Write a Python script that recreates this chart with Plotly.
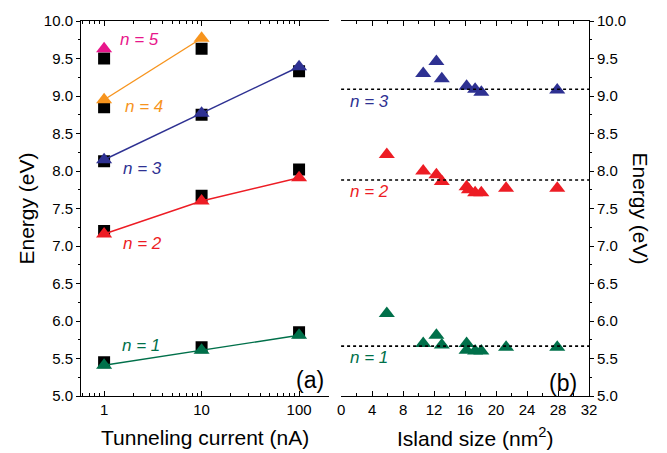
import math
import plotly.graph_objects as go

# ---------------- data ----------------
currents = [1, 10, 100]
current_labels = ["1", "10", "100"]
# black squares (panel a)
sq_x = [1, 1, 1, 1, 1, 10, 10, 10, 10, 100, 100, 100]
sq_y = [5.45, 7.20, 8.13, 8.85, 9.50, 5.65, 7.67, 8.75, 9.63, 5.85, 8.02, 9.33]

n1_a = [5.41, 5.61, 5.81]
n2_a = [7.16, 7.60, 7.91]
n3_a = [8.15, 8.77, 9.39]
n4_a = [8.95, 9.77]
n5_a = [9.63]

# panel b : island size vs energy
size_n3 = [10.6, 12.3, 13.0, 16.2, 17.3, 18.1, 27.9]
e_n3 = [9.30, 9.46, 9.23, 9.13, 9.09, 9.05, 9.08]
size_n2 = [5.9, 10.6, 12.3, 13.0, 16.2, 16.5, 17.3, 18.1, 21.3, 27.9]
e_n2 = [8.22, 8.00, 7.95, 7.86, 7.79, 7.75, 7.71, 7.71, 7.77, 7.77]
size_n1 = [5.9, 10.6, 12.3, 13.0, 16.2, 16.2, 17.3, 18.1, 21.3, 27.9]
e_n1 = [6.10, 5.70, 5.81, 5.68, 5.70, 5.61, 5.60, 5.60, 5.65, 5.65]
levels = [5.665, 7.88, 9.09]

C_PINK = "#e8168b"
C_ORANGE = "#f7941d"
C_BLUE = "#2e3192"
C_RED = "#ed1c24"
C_GREEN = "#00704a"

FONT = "Liberation Sans, Arial, Helvetica, sans-serif"

fig = go.Figure()

# squares first
fig.add_trace(go.Scatter(x=sq_x, y=sq_y, mode="markers", xaxis="x", yaxis="y",
                         marker=dict(symbol="square", size=12, color="black"),
                         showlegend=False))

def tri_line(xs, ys, color, mode="lines+markers"):
    fig.add_trace(go.Scatter(x=xs, y=ys, mode=mode, xaxis="x", yaxis="y",
                             line=dict(color=color, width=1.4),
                             marker=dict(symbol="triangle-up", size=14, color=color),
                             showlegend=False))

tri_line(currents, n1_a, C_GREEN)
tri_line(currents, n2_a, C_RED)
tri_line(currents, n3_a, C_BLUE)
tri_line(currents[:2], n4_a, C_ORANGE)
tri_line(currents[:1], n5_a, C_PINK, mode="markers")

for xs, ys, c in [(size_n1, e_n1, C_GREEN), (size_n2, e_n2, C_RED), (size_n3, e_n3, C_BLUE)]:
    fig.add_trace(go.Scatter(x=xs, y=ys, mode="markers", xaxis="x2", yaxis="y2",
                             marker=dict(symbol="triangle-up", size=14, color=c),
                             showlegend=False))

for lv in levels:
    fig.add_shape(type="line", xref="x2 domain", yref="y2", x0=0, x1=1, y0=lv, y1=lv,
                  line=dict(color="black", width=1.6, dash="dot"))

log_minor = [0.6, 0.7, 0.8, 0.9, 2, 3, 4, 5, 6, 7, 8, 9,
             20, 30, 40, 50, 60, 70, 80, 90, 200]

axis_common = dict(showgrid=False, zeroline=False, showline=True, linecolor="black",
                   linewidth=1, tickcolor="black", tickfont=dict(family=FONT, size=15, color="black"))

yfmt = dict(range=[5, 10], dtick=0.5, tick0=5, tickformat=".1f")

fig.update_layout(
    width=667, height=453,
    margin=dict(l=81, r=78, t=19, b=57),
    paper_bgcolor="white", plot_bgcolor="white",
    font=dict(family=FONT, color="black"),
    xaxis=dict(type="log", range=[-0.237, 2.306], domain=[0, 0.488], anchor="y",
               tickvals=currents, ticktext=current_labels, ticks="inside", ticklen=5,
               mirror="ticks",
               minor=dict(tickvals=log_minor, ticks="inside", ticklen=3, tickcolor="black"),
               **axis_common),
    yaxis=dict(anchor="x", side="left", ticks="outside", ticklen=4,
               minor=dict(dtick=0.25, ticks="outside", ticklen=2, tickcolor="black"),
               **yfmt, **axis_common),
    yaxis3=dict(overlaying="y", anchor="x", side="right", ticks="inside", ticklen=5,
                showticklabels=False,
                minor=dict(dtick=0.25, ticks="inside", ticklen=3, tickcolor="black"),
                **yfmt, **axis_common),
    xaxis2=dict(range=[0, 32], domain=[0.512, 1], anchor="y2", dtick=4, tick0=0,
                ticks="inside", ticklen=5, mirror="ticks",
                minor=dict(dtick=2, ticks="inside", ticklen=3, tickcolor="black"),
                **axis_common),
    yaxis2=dict(anchor="x2", side="right", ticks="outside", ticklen=4,
                minor=dict(dtick=0.25, ticks="outside", ticklen=2, tickcolor="black"),
                **yfmt, **axis_common),
    yaxis4=dict(overlaying="y2", anchor="x2", side="left", ticks="inside", ticklen=5,
                showticklabels=False,
                minor=dict(dtick=0.25, ticks="inside", ticklen=3, tickcolor="black"),
                **yfmt, **axis_common),
)

def lab(text, x, y, color, xref="x", yref="y", size=17, xanchor="left"):
    fig.add_annotation(text=text, x=x, y=y, xref=xref, yref=yref, showarrow=False,
                       xanchor=xanchor, yanchor="middle",
                       font=dict(family=FONT, size=size, color=color))

# panel a labels (log axis annotations use log10 of x)
lab("<i>n = 5</i>", math.log10(1.38), 9.75, C_PINK)
lab("<i>n = 4</i>", math.log10(1.57), 8.86, C_ORANGE)
lab("<i>n = 3</i>", math.log10(1.49), 8.04, C_BLUE)
lab("<i>n = 2</i>", math.log10(1.49), 7.03, C_RED)
lab("<i>n = 1</i>", math.log10(1.46), 5.68, C_GREEN)
lab("(a)", 0.99, 5.21, "black", xref="x domain", size=23, xanchor="right")

lab("<i>n = 3</i>", 0.95, 8.93, C_BLUE, xref="x2", yref="y2")
lab("<i>n = 2</i>", 0.95, 7.73, C_RED, xref="x2", yref="y2")
lab("<i>n = 1</i>", 0.95, 5.52, C_GREEN, xref="x2", yref="y2")
lab("(b)", 0.96, 5.17, "black", xref="x2 domain", yref="y2", size=23, xanchor="right")

# axis titles
fig.add_annotation(text="Tunneling current (nA)", xref="x domain", yref="paper", x=0.5, y=0,
                   yshift=-41, showarrow=False, xanchor="center", yanchor="middle",
                   font=dict(family=FONT, size=21, color="black"))
fig.add_annotation(text="Island size (nm<sup>2</sup>)", xref="x2 domain", yref="paper", x=0.54, y=0,
                   yshift=-41, showarrow=False, xanchor="center", yanchor="middle",
                   font=dict(family=FONT, size=21, color="black"))
fig.add_annotation(text="Energy (eV)", xref="paper", yref="paper", x=0, y=0.5, xshift=-55,
                   textangle=-90, showarrow=False, xanchor="center", yanchor="middle",
                   font=dict(family=FONT, size=21, color="black"))
fig.add_annotation(text="Energy (eV)", xref="paper", yref="paper", x=1, y=0.5, xshift=51,
                   textangle=90, showarrow=False, xanchor="center", yanchor="middle",
                   font=dict(family=FONT, size=21, color="black"))

fig.write_html("out.html", config={"displayModeBar": False},
               post_script="document.body.style.margin='0';document.body.style.padding='0';")
